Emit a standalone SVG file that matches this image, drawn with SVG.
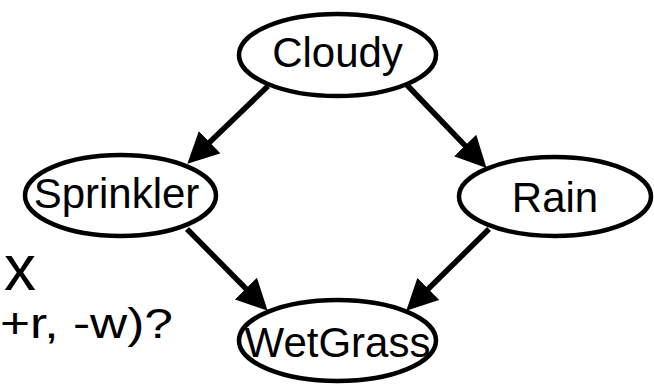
<svg xmlns="http://www.w3.org/2000/svg" width="654" height="384" viewBox="0 0 654 384">
<style>
.node ellipse{fill:#fff;stroke:#000;stroke-width:4.5}
.node text,.lbl{font-family:"Liberation Sans",Arial,sans-serif;font-size:42px;fill:#000}
.node text{text-anchor:middle}
.edge{stroke:#000;stroke-width:5.5;fill:none;marker-end:url(#arr)}
</style>
<defs>
<marker id="arr" markerUnits="userSpaceOnUse" markerWidth="31" markerHeight="31" refX="8" refY="15.5" orient="auto" viewBox="0 0 31 31">
<path d="M0,0 L31,15.5 L0,31 Z" fill="#000"/>
</marker>
</defs>
<rect width="654" height="384" fill="#fff"/>
<g id="side-text">
<text class="lbl" x="36" y="290" text-anchor="end" style="font-size:64px">x</text>
<text class="lbl" x="0" y="338" textLength="173" lengthAdjust="spacingAndGlyphs">+r, -w)?</text>
</g>
<g id="connectors">
<line class="edge" x1="268" y1="86" x2="203.9" y2="147.8"/>
<line class="edge" x1="407" y1="85" x2="470.6" y2="151.3"/>
<line class="edge" x1="187" y1="229" x2="251.5" y2="294.3"/>
<line class="edge" x1="489" y1="229" x2="422.6" y2="294.5"/>
</g>
<g id="cloudy" class="node">
<ellipse cx="337.5" cy="55" rx="98.5" ry="41"/>
<text x="337.5" y="67">Cloudy</text>
</g>
<g id="sprinkler" class="node">
<ellipse cx="120.5" cy="195.5" rx="95.5" ry="40.5"/>
<text x="116.5" y="208">Sprinkler</text>
</g>
<g id="rain" class="node">
<ellipse cx="555" cy="196.5" rx="96" ry="39.5"/>
<text x="555" y="212">Rain</text>
</g>
<g id="wetgrass" class="node">
<ellipse cx="337.5" cy="340.5" rx="98.5" ry="40.5"/>
<text x="337.5" y="357">WetGrass</text>
</g>
</svg>
